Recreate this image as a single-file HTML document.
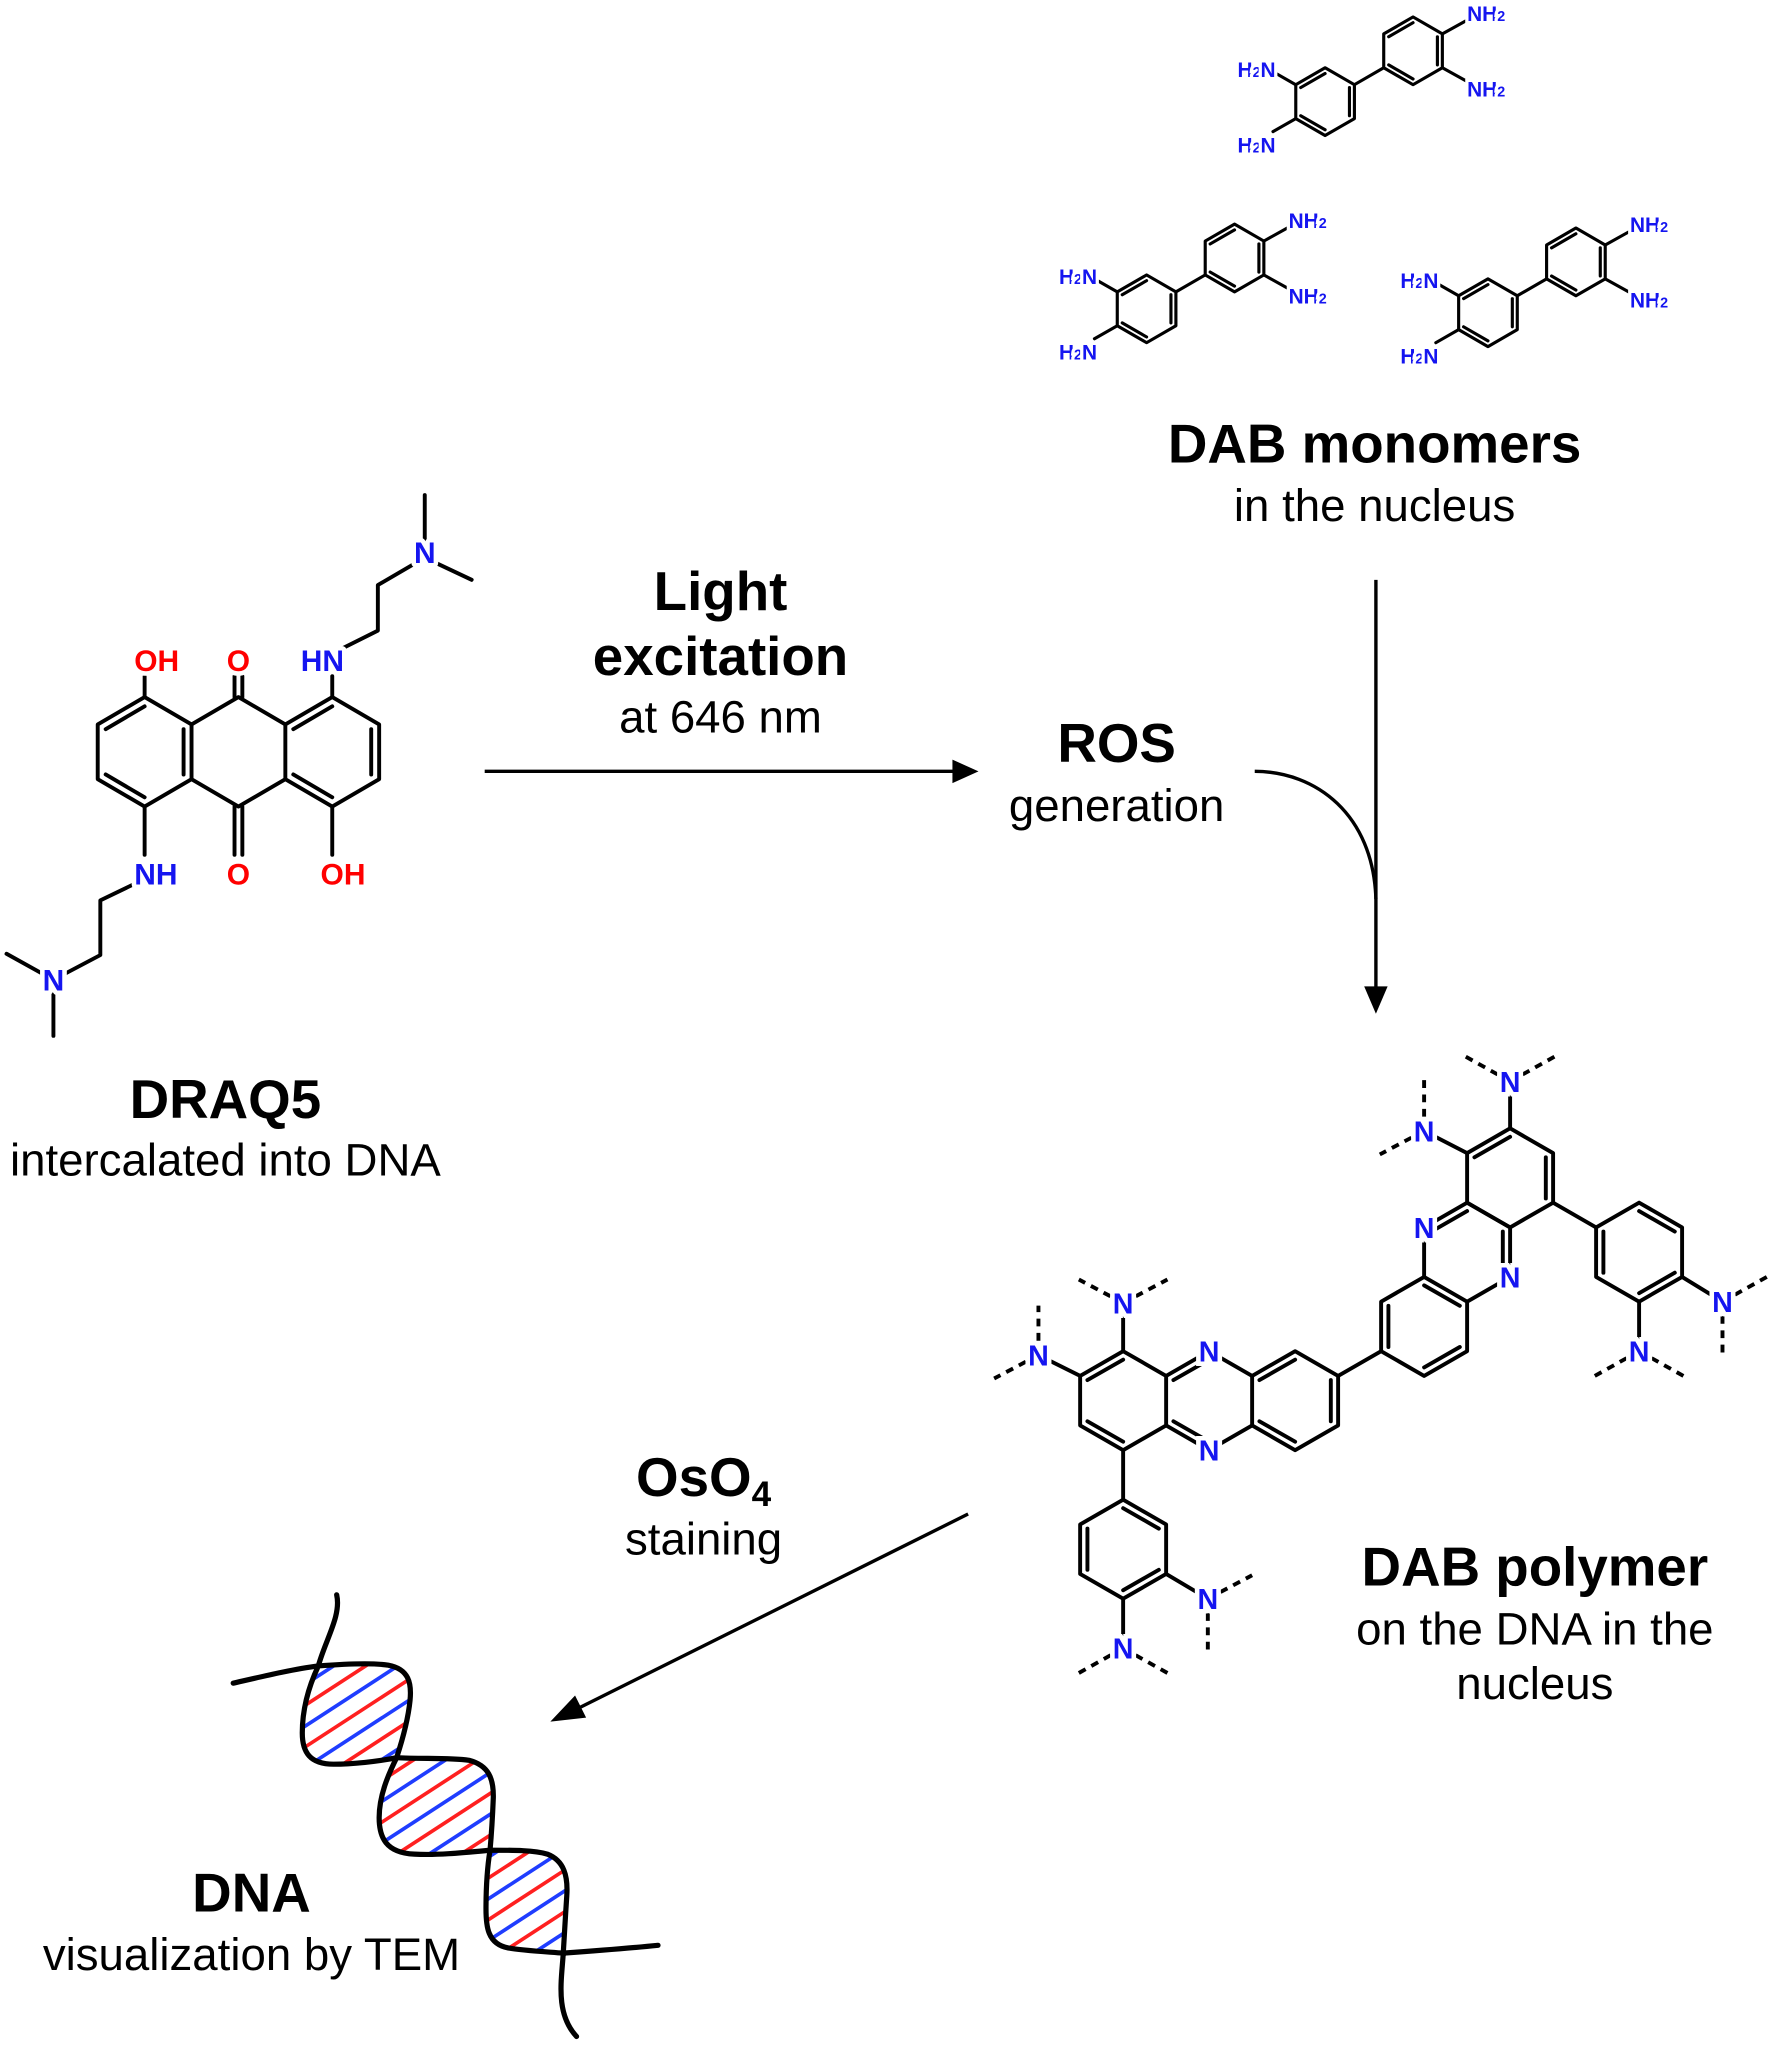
<!DOCTYPE html>
<html><head><meta charset="utf-8"><style>
html,body{margin:0;padding:0;background:#fff;}
svg{display:block;}
text{font-family:"Liberation Sans",Arial,sans-serif;}
.b{stroke:#000;stroke-width:3;fill:none;stroke-linecap:round;stroke-linejoin:round;}
.bt{stroke:#000;stroke-width:2.4;fill:none;stroke-linecap:round;stroke-linejoin:round;}
.d{stroke:#000;stroke-width:3;fill:none;stroke-dasharray:6 5;}
.lbl{font-weight:bold;font-size:23px;paint-order:stroke;stroke:#fff;stroke-width:7px;stroke-linejoin:round;}
.nl{font-weight:bold;font-size:22px;fill:#1515f0;paint-order:stroke;stroke:#fff;stroke-width:7px;text-anchor:middle;}
.sm{font-weight:bold;font-size:16px;fill:#1515f0;paint-order:stroke;stroke:#fff;stroke-width:5px;}
.h1{font-weight:bold;font-size:42px;text-anchor:middle;fill:#000;}
.h2{font-size:35px;text-anchor:middle;fill:#000;}
</style></head><body>
<svg width="1772" height="2045" viewBox="0 0 1360 1569.5" xmlns="http://www.w3.org/2000/svg">
<rect width="1360" height="1569.5" fill="#fff"/>

<!-- DRAQ5 -->
<g>
<polygon class="b" points="111,535 147,556 147,598 111,619 75,598 75,556"/>
<polygon class="b" points="255,535 291,556 291,598 255,619 219,598 219,556"/>
<polyline class="b" points="147,556 183,535 219,556"/>
<polyline class="b" points="147,598 183,619 219,598"/>
<line class="b" x1="81.1" y1="559.6" x2="111" y2="542.1"/>
<line class="b" x1="81.1" y1="594.4" x2="111" y2="611.9"/>
<line class="b" x1="140.9" y1="559.6" x2="140.9" y2="594.4"/>
<line class="b" x1="225.1" y1="559.6" x2="255" y2="542.1"/>
<line class="b" x1="225.1" y1="594.4" x2="255" y2="611.9"/>
<line class="b" x1="284.9" y1="559.6" x2="284.9" y2="594.4"/>
<line class="b" x1="111" y1="535" x2="111" y2="519"/>
<line class="b" x1="180" y1="535" x2="180" y2="519"/>
<line class="b" x1="186" y1="535" x2="186" y2="519"/>
<line class="b" x1="255" y1="535" x2="255" y2="519"/>
<line class="b" x1="111" y1="619" x2="111" y2="656"/>
<line class="b" x1="180" y1="619" x2="180" y2="656"/>
<line class="b" x1="186" y1="619" x2="186" y2="656"/>
<line class="b" x1="255" y1="619" x2="255" y2="656"/>
<polyline class="b" points="262,498 290,484 290,449 326,428"/>
<line class="b" x1="326" y1="428" x2="326" y2="380"/>
<line class="b" x1="326" y1="428" x2="362" y2="445"/>
<polyline class="b" points="104,678 77,691 77,733 41,752"/>
<line class="b" x1="41" y1="752" x2="5" y2="732"/>
<line class="b" x1="41" y1="752" x2="41" y2="795"/>
<text class="lbl" x="103" y="515" fill="#f00">OH</text>
<text class="lbl" x="183" y="515" fill="#f00" text-anchor="middle">O</text>
<text class="lbl" x="264" y="515" fill="#1515f0" text-anchor="end">HN</text>
<text class="lbl" x="326" y="432" fill="#1515f0" text-anchor="middle">N</text>
<text class="lbl" x="103" y="679" fill="#1515f0">NH</text>
<text class="lbl" x="183" y="679" fill="#f00" text-anchor="middle">O</text>
<text class="lbl" x="246" y="679" fill="#f00">OH</text>
<text class="lbl" x="41" y="760" fill="#1515f0" text-anchor="middle">N</text>
</g>
<text class="h1" x="173" y="858">DRAQ5</text>
<text class="h2" x="173" y="902">intercalated into DNA</text>

<!-- Arrow 1 -->
<line x1="372" y1="592" x2="733" y2="592" stroke="#000" stroke-width="2.6"/>
<polygon points="751,592 731,583 731,601" fill="#000"/>
<text class="h1" x="553" y="468">Light</text>
<text class="h1" x="553" y="518">excitation</text>
<text class="h2" x="553" y="562">at 646 nm</text>
<text class="h1" x="857" y="585">ROS</text>
<text class="h2" x="857" y="630">generation</text>

<!-- vertical arrow and curve -->
<line x1="1056" y1="445" x2="1056" y2="760" stroke="#000" stroke-width="2.6"/>
<polygon points="1056,778 1047,757 1065,757" fill="#000"/>
<path d="M963,592 C1010,592 1054,625 1056,690" stroke="#000" stroke-width="2.6" fill="none"/>

<text class="h1" x="1055" y="355">DAB monomers</text>
<text class="h2" x="1055" y="400">in the nucleus</text>

<!-- DAB monomers -->
<g>
<polygon class="bt" points="1017,52 1039.5,65 1039.5,91 1017,104 994.5,91 994.5,65"/>
<line class="bt" x1="998.3" y1="67.2" x2="1017" y2="56.4"/>
<line class="bt" x1="1035.7" y1="67.2" x2="1035.7" y2="88.8"/>
<line class="bt" x1="998.3" y1="88.8" x2="1017" y2="99.6"/>
<line class="bt" x1="1039.5" y1="65" x2="1062" y2="52"/>
<polygon class="bt" points="1084.5,13 1107,26 1107,52 1084.5,65 1062,52 1062,26"/>
<line class="bt" x1="1065.8" y1="28.2" x2="1084.5" y2="17.4"/>
<line class="bt" x1="1103.2" y1="28.2" x2="1103.2" y2="49.8"/>
<line class="bt" x1="1065.8" y1="49.8" x2="1084.5" y2="60.6"/>
<line class="bt" x1="1107" y1="26" x2="1125" y2="16"/>
<line class="bt" x1="1107" y1="52" x2="1125" y2="62"/>
<line class="bt" x1="994.5" y1="65" x2="977" y2="55"/>
<line class="bt" x1="994.5" y1="91" x2="977" y2="101"/>
<text class="sm" x="1126" y="16">NH<tspan font-size="11">2</tspan></text>
<text class="sm" x="1126" y="74">NH<tspan font-size="11">2</tspan></text>
<text class="sm" x="979" y="59" text-anchor="end">H<tspan font-size="11">2</tspan>N</text>
<text class="sm" x="979" y="117" text-anchor="end">H<tspan font-size="11">2</tspan>N</text>
</g>
<g transform="translate(-137,159)">
<polygon class="bt" points="1017,52 1039.5,65 1039.5,91 1017,104 994.5,91 994.5,65"/>
<line class="bt" x1="998.3" y1="67.2" x2="1017" y2="56.4"/>
<line class="bt" x1="1035.7" y1="67.2" x2="1035.7" y2="88.8"/>
<line class="bt" x1="998.3" y1="88.8" x2="1017" y2="99.6"/>
<line class="bt" x1="1039.5" y1="65" x2="1062" y2="52"/>
<polygon class="bt" points="1084.5,13 1107,26 1107,52 1084.5,65 1062,52 1062,26"/>
<line class="bt" x1="1065.8" y1="28.2" x2="1084.5" y2="17.4"/>
<line class="bt" x1="1103.2" y1="28.2" x2="1103.2" y2="49.8"/>
<line class="bt" x1="1065.8" y1="49.8" x2="1084.5" y2="60.6"/>
<line class="bt" x1="1107" y1="26" x2="1125" y2="16"/>
<line class="bt" x1="1107" y1="52" x2="1125" y2="62"/>
<line class="bt" x1="994.5" y1="65" x2="977" y2="55"/>
<line class="bt" x1="994.5" y1="91" x2="977" y2="101"/>
<text class="sm" x="1126" y="16">NH<tspan font-size="11">2</tspan></text>
<text class="sm" x="1126" y="74">NH<tspan font-size="11">2</tspan></text>
<text class="sm" x="979" y="59" text-anchor="end">H<tspan font-size="11">2</tspan>N</text>
<text class="sm" x="979" y="117" text-anchor="end">H<tspan font-size="11">2</tspan>N</text>
</g>
<g transform="translate(125,162)">
<polygon class="bt" points="1017,52 1039.5,65 1039.5,91 1017,104 994.5,91 994.5,65"/>
<line class="bt" x1="998.3" y1="67.2" x2="1017" y2="56.4"/>
<line class="bt" x1="1035.7" y1="67.2" x2="1035.7" y2="88.8"/>
<line class="bt" x1="998.3" y1="88.8" x2="1017" y2="99.6"/>
<line class="bt" x1="1039.5" y1="65" x2="1062" y2="52"/>
<polygon class="bt" points="1084.5,13 1107,26 1107,52 1084.5,65 1062,52 1062,26"/>
<line class="bt" x1="1065.8" y1="28.2" x2="1084.5" y2="17.4"/>
<line class="bt" x1="1103.2" y1="28.2" x2="1103.2" y2="49.8"/>
<line class="bt" x1="1065.8" y1="49.8" x2="1084.5" y2="60.6"/>
<line class="bt" x1="1107" y1="26" x2="1125" y2="16"/>
<line class="bt" x1="1107" y1="52" x2="1125" y2="62"/>
<line class="bt" x1="994.5" y1="65" x2="977" y2="55"/>
<line class="bt" x1="994.5" y1="91" x2="977" y2="101"/>
<text class="sm" x="1126" y="16">NH<tspan font-size="11">2</tspan></text>
<text class="sm" x="1126" y="74">NH<tspan font-size="11">2</tspan></text>
<text class="sm" x="979" y="59" text-anchor="end">H<tspan font-size="11">2</tspan>N</text>
<text class="sm" x="979" y="117" text-anchor="end">H<tspan font-size="11">2</tspan>N</text>
</g>

<!-- DAB polymer -->
<g>
<polygon class="b" points="862,1037 895,1056 895,1094 862,1113 829,1094 829,1056"/>
<polyline class="b" points="895,1056 928,1037 961,1056"/>
<polyline class="b" points="895,1094 928,1113 961,1094"/>
<polygon class="b" points="994,1037 1027,1056 1027,1094 994,1113 961,1094 961,1056"/>
<line class="b" x1="1027" y1="1056" x2="1060" y2="1037"/>
<polygon class="b" points="1093,980 1126,999 1126,1037 1093,1056 1060,1037 1060,999"/>
<polyline class="b" points="1093,980 1093,942 1126,923 1159,942 1159,980 1126,999"/>
<polygon class="b" points="1159,866 1192,885 1192,923 1159,942 1126,923 1126,885"/>
<line class="b" x1="1192" y1="923" x2="1225" y2="942"/>
<polygon class="b" points="1258,923 1291,942 1291,980 1258,999 1225,980 1225,942"/>
<line class="b" x1="862" y1="1113" x2="862" y2="1151"/>
<polygon class="b" points="862,1151 895,1170 895,1208 862,1227 829,1208 829,1170"/>
<line class="b" x1="834.6" y1="1059.2" x2="862" y2="1043.5"/>
<line class="b" x1="834.6" y1="1090.8" x2="862" y2="1106.5"/>
<line class="b" x1="900.6" y1="1059.2" x2="928" y2="1043.5"/>
<line class="b" x1="900.6" y1="1090.8" x2="928" y2="1106.5"/>
<line class="b" x1="966.6" y1="1059.2" x2="994" y2="1043.5"/>
<line class="b" x1="1021.4" y1="1059.2" x2="1021.4" y2="1090.8"/>
<line class="b" x1="966.6" y1="1090.8" x2="994" y2="1106.5"/>
<line class="b" x1="1065.6" y1="1002.2" x2="1065.6" y2="1033.8"/>
<line class="b" x1="1120.4" y1="1033.8" x2="1093" y2="1049.5"/>
<line class="b" x1="1093" y1="986.5" x2="1120.4" y2="1002.2"/>
<line class="b" x1="1098.6" y1="945.2" x2="1126" y2="929.5"/>
<line class="b" x1="1153.4" y1="945.2" x2="1153.4" y2="976.8"/>
<line class="b" x1="1131.6" y1="888.2" x2="1159" y2="872.5"/>
<line class="b" x1="1186.4" y1="888.2" x2="1186.4" y2="919.8"/>
<line class="b" x1="1230.6" y1="945.2" x2="1230.6" y2="976.8"/>
<line class="b" x1="1258" y1="929.5" x2="1285.4" y2="945.2"/>
<line class="b" x1="1285.4" y1="976.8" x2="1258" y2="992.5"/>
<line class="b" x1="834.6" y1="1173.2" x2="834.6" y2="1204.8"/>
<line class="b" x1="862" y1="1157.5" x2="889.4" y2="1173.2"/>
<line class="b" x1="889.4" y1="1204.8" x2="862" y2="1220.5"/>
<line class="b" x1="862" y1="1037" x2="862" y2="1000"/>
<line class="b" x1="829" y1="1056" x2="797" y2="1040"/>
<line class="b" x1="895" y1="1208" x2="927" y2="1227"/>
<line class="b" x1="862" y1="1227" x2="862" y2="1265"/>
<line class="b" x1="1159" y1="866" x2="1159" y2="830"/>
<line class="b" x1="1126" y1="885" x2="1093" y2="868"/>
<line class="b" x1="1291" y1="980" x2="1322" y2="999"/>
<line class="b" x1="1258" y1="999" x2="1258" y2="1037"/>
<line class="d" x1="862" y1="1000" x2="828" y2="982"/>
<line class="d" x1="862" y1="1000" x2="896" y2="982"/>
<line class="d" x1="797" y1="1040" x2="797" y2="1002"/>
<line class="d" x1="797" y1="1040" x2="763" y2="1058"/>
<line class="d" x1="927" y1="1227" x2="961" y2="1209"/>
<line class="d" x1="927" y1="1227" x2="927" y2="1266"/>
<line class="d" x1="862" y1="1265" x2="828" y2="1284"/>
<line class="d" x1="862" y1="1265" x2="896" y2="1284"/>
<line class="d" x1="1159" y1="830" x2="1125" y2="811"/>
<line class="d" x1="1159" y1="830" x2="1193" y2="811"/>
<line class="d" x1="1093" y1="868" x2="1093" y2="829"/>
<line class="d" x1="1093" y1="868" x2="1059" y2="886"/>
<line class="d" x1="1322" y1="999" x2="1356" y2="980"/>
<line class="d" x1="1322" y1="999" x2="1322" y2="1039"/>
<line class="d" x1="1258" y1="1037" x2="1224" y2="1056"/>
<line class="d" x1="1258" y1="1037" x2="1292" y2="1056"/>
<text class="nl" x="862" y="1008">N</text>
<text class="nl" x="797" y="1048">N</text>
<text class="nl" x="928" y="1045">N</text>
<text class="nl" x="928" y="1121">N</text>
<text class="nl" x="927" y="1235">N</text>
<text class="nl" x="862" y="1273">N</text>
<text class="nl" x="1159" y="838">N</text>
<text class="nl" x="1093" y="876">N</text>
<text class="nl" x="1093" y="950">N</text>
<text class="nl" x="1159" y="988">N</text>
<text class="nl" x="1322" y="1007">N</text>
<text class="nl" x="1258" y="1045">N</text>
</g>
<text class="h1" x="1178" y="1217">DAB polymer</text>
<text class="h2" x="1178" y="1262">on the DNA in the</text>
<text class="h2" x="1178" y="1304">nucleus</text>

<!-- OsO4 arrow -->
<line x1="743" y1="1162" x2="440" y2="1313" stroke="#000" stroke-width="2.6"/>
<polygon points="425,1320 448.3,1317.4 441.1,1303" fill="#000" stroke="#000" stroke-width="2"/>
<text class="h1" x="540" y="1148">OsO<tspan font-size="27" dy="8">4</tspan></text>
<text class="h2" x="540" y="1193">staining</text>

<!-- DNA helix -->
<defs>
<clipPath id="lobes">
<path d="M244.3,1278.6 C265,1277 285,1276 298,1278 C314,1281 316,1292 314.7,1305 C313,1322 308,1338 304.4,1349 C290,1352 270,1354 256,1354 C238,1354 232,1345 232,1330 C232,1310 238,1292 244.3,1278.6 Z M304.4,1349 C325,1350 345,1349 360,1351 C375,1355 379,1365 378.6,1380 C378,1395 377,1410 376.1,1420 C355,1422 335,1424 318,1423 C296,1422 291,1410 291,1395 C291,1378 298,1362 304.4,1349 Z M376.1,1420 C395,1420 410,1420 420,1423 C433,1428 436,1440 435,1455 C434,1470 433,1487 432.3,1499 C420,1498 400,1497 390,1495 C374,1492 373,1478 373,1465 C373,1448 374,1433 376.1,1420 Z"/>
</clipPath>
</defs>
<g clip-path="url(#lobes)" stroke-width="2.8">
<line x1="220" y1="1302" x2="450" y2="1152.5" stroke="#1f3dff"/>
<line x1="220" y1="1318" x2="450" y2="1168.5" stroke="#ff2020"/>
<line x1="220" y1="1334" x2="450" y2="1184.5" stroke="#1f3dff"/>
<line x1="220" y1="1350" x2="450" y2="1200.5" stroke="#ff2020"/>
<line x1="220" y1="1366" x2="450" y2="1216.5" stroke="#1f3dff"/>
<line x1="220" y1="1382" x2="450" y2="1232.5" stroke="#ff2020"/>
<line x1="220" y1="1398" x2="450" y2="1248.5" stroke="#1f3dff"/>
<line x1="220" y1="1414" x2="450" y2="1264.5" stroke="#ff2020"/>
<line x1="220" y1="1430" x2="450" y2="1280.5" stroke="#1f3dff"/>
<line x1="220" y1="1446" x2="450" y2="1296.5" stroke="#ff2020"/>
<line x1="220" y1="1462" x2="450" y2="1312.5" stroke="#1f3dff"/>
<line x1="220" y1="1478" x2="450" y2="1328.5" stroke="#ff2020"/>
<line x1="220" y1="1494" x2="450" y2="1344.5" stroke="#1f3dff"/>
<line x1="220" y1="1510" x2="450" y2="1360.5" stroke="#ff2020"/>
<line x1="220" y1="1526" x2="450" y2="1376.5" stroke="#1f3dff"/>
<line x1="220" y1="1542" x2="450" y2="1392.5" stroke="#ff2020"/>
<line x1="220" y1="1558" x2="450" y2="1408.5" stroke="#1f3dff"/>
<line x1="220" y1="1574" x2="450" y2="1424.5" stroke="#ff2020"/>
<line x1="220" y1="1590" x2="450" y2="1440.5" stroke="#1f3dff"/>
<line x1="220" y1="1606" x2="450" y2="1456.5" stroke="#ff2020"/>
<line x1="220" y1="1622" x2="450" y2="1472.5" stroke="#1f3dff"/>
<line x1="220" y1="1638" x2="450" y2="1488.5" stroke="#ff2020"/>
</g>
<g stroke="#000" stroke-width="4" fill="none" stroke-linecap="round">
<path d="M244.3,1278.6 C265,1277 285,1276 298,1278 C314,1281 316,1292 314.7,1305 C313,1322 308,1338 304.4,1349 C290,1352 270,1354 256,1354 C238,1354 232,1345 232,1330 C232,1310 238,1292 244.3,1278.6 Z"/>
<path d="M304.4,1349 C325,1350 345,1349 360,1351 C375,1355 379,1365 378.6,1380 C378,1395 377,1410 376.1,1420 C355,1422 335,1424 318,1423 C296,1422 291,1410 291,1395 C291,1378 298,1362 304.4,1349 Z"/>
<path d="M376.1,1420 C395,1420 410,1420 420,1423 C433,1428 436,1440 435,1455 C434,1470 433,1487 432.3,1499 C420,1498 400,1497 390,1495 C374,1492 373,1478 373,1465 C373,1448 374,1433 376.1,1420 Z"/>
<path d="M244.3,1278.6 C250,1258 262,1240 258.4,1224"/>
<path d="M179,1291.8 C200,1287 225,1281 244.3,1278.6"/>
<path d="M432.3,1499 C460,1497 485,1495 505,1493"/>
<path d="M432.3,1499 C431,1520 426,1545 442.5,1563"/>
</g>
<text class="h1" x="193" y="1467">DNA</text>
<text class="h2" x="193" y="1512">visualization by TEM</text>
</svg>
</body></html>
